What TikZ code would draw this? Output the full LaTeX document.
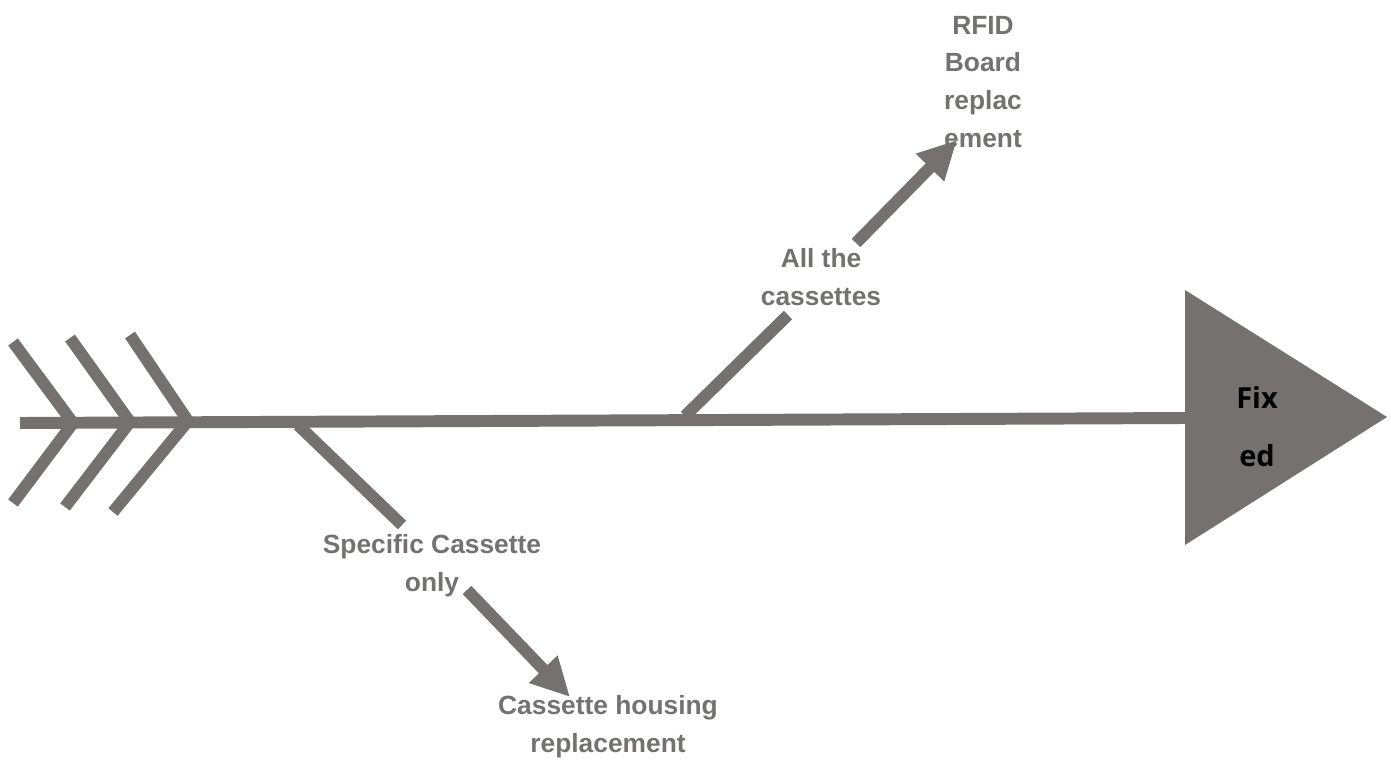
\documentclass[tikz,border=0pt]{standalone}
\usepackage{fontspec}
\setmainfont{Liberation Sans}
\newfontfamily\headfont{Open Sans}
\usetikzlibrary{arrows.meta}
\definecolor{bonegray}{HTML}{767171}

\begin{document}
\begin{tikzpicture}[x=0.02cm,y=-0.02cm,
  boneline/.style={draw=bonegray,line width=6.8pt},
  bonearrow/.style={boneline,-{Triangle[length=22pt,width=21pt]}},
  lbl/.style={text=bonegray,font=\fontsize{15}{21.6}\selectfont\bfseries,align=center,inner sep=0pt},
  headlbl/.style={text=black,font=\headfont\fontsize{16.5}{33}\selectfont\bfseries,align=center,inner sep=0pt}]
\useasboundingbox (0,0) rectangle (1391,763);

% head
\fill[bonegray](1185,290)--(1387,417)--(1185,545)--cycle;
\node[headlbl] (fixed) at (1257,427) {Fix\\ed};

% spine
\coordinate (tail) at (20,423);
\coordinate (neck) at (1186,418);
\draw[boneline] (tail)--(neck);

% tail chevrons
\coordinate (c1t) at (13,342); \coordinate (c1v) at (73,423); \coordinate (c1b) at (13,503);
\coordinate (c2t) at (70,338); \coordinate (c2v) at (130,422); \coordinate (c2b) at (65,507);
\coordinate (c3t) at (130,335); \coordinate (c3v) at (188,421); \coordinate (c3b) at (113,512);
\draw[boneline,line join=miter] (c1t)--(c1v)--(c1b);
\draw[boneline,line join=miter] (c2t)--(c2v)--(c2b);
\draw[boneline,line join=miter] (c3t)--(c3v)--(c3b);

% labels
\node[lbl] (specific) at (432,566) {Specific Cassette\\only};
\node[lbl] (housing) at (608,727) {Cassette housing\\replacement};
\node[lbl] (allthe) at (821,277) {All the\\cassettes};
\node[lbl] (rfid) at (983,82) {RFID\\Board\\replac\\ement};

% lower branch
\coordinate (b1) at (298,425);
\coordinate (b1e) at (402,525);
\draw[boneline] (b1)--(b1e);
\coordinate (a1s) at (467,590);
\coordinate (a1e) at (570,697);
\draw[bonearrow] (a1s)--(a1e);

% upper branch
\coordinate (b2) at (685,416);
\coordinate (b2e) at (788,315);
\draw[boneline] (b2)--(b2e);
\coordinate (a2s) at (856,243);
\coordinate (a2e) at (957,140);
\draw[bonearrow] (a2s)--(a2e);
\end{tikzpicture}
\end{document}
